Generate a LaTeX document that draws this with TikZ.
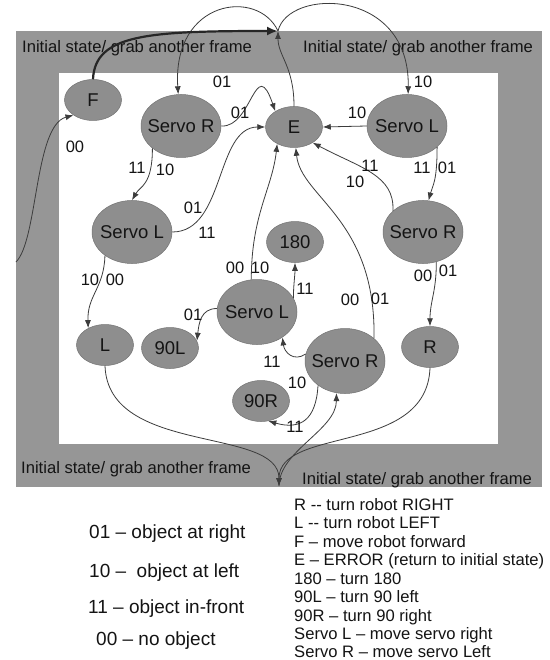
\documentclass[tikz,border=0pt]{standalone}
\usepackage{fontspec}
\setmainfont{Liberation Sans}
\usetikzlibrary{shapes.geometric,arrows.meta}
\definecolor{framegray}{RGB}{150,150,150}
\definecolor{nodegray}{RGB}{142,142,142}
\definecolor{linegray}{RGB}{60,60,60}
\definecolor{txt}{RGB}{20,20,20}
\newcommand\zc[1]{\makebox[0pt]{#1}}
\begin{document}
\begin{tikzpicture}[x=1pt,y=-1pt,
 st/.style={ellipse,fill=nodegray,draw=nodegray!80!black,line width=0.5pt,inner sep=0pt,font=\fontsize{18.5}{18.5}\selectfont,text=txt},
 big/.style={st,minimum width=80pt,minimum height=63pt},
 sml/.style={st,minimum width=57pt,minimum height=41pt},
 lab/.style={font=\fontsize{16.5}{16.5}\selectfont,text=txt,inner sep=0pt},
 fr/.style={font=\fontsize{16.6}{16.6}\selectfont,text=txt,inner sep=0pt,anchor=base west},
 leg/.style={font=\fontsize{16.6}{16.6}\selectfont,text=txt,inner sep=0pt,anchor=base west},
 legb/.style={font=\fontsize{19}{19}\selectfont,text=txt,inner sep=0pt,anchor=base west},
 arr/.style={draw=linegray,line width=0.8pt,-{Latex[length=8pt,width=6pt]}},
 thk/.style={draw=black!85,line width=2.2pt,-{Latex[length=11pt,width=9pt]}}
]
\useasboundingbox (0,0) rectangle (549,660);
\fill[white] (0,0) rectangle (549,660);
\fill[framegray] (16,31) rectangle (542,487);
\fill[white] (59,73) rectangle (498,444);

% frame labels
\node[fr] (t1) at (22,53) {Initial state/ grab another frame};
\node[fr] (t2) at (303,53) {Initial state/ grab another frame};
\node[fr] (t3) at (21,473) {Initial state/ grab another frame};
\node[fr] (t4) at (302,484) {Initial state/ grab another frame};

% states
\node[sml] (F) at (93,100) {\zc{F}};
\node[big] (SRa) at (181,126) {\zc{Servo R}};
\node[sml] (E) at (294,127) {\zc{E}};
\node[big] (SLa) at (407,126) {\zc{Servo L}};
\node[big] (SLb) at (132,232) {\zc{Servo L}};
\node[big] (SRb) at (423,232) {\zc{Servo R}};
\node[sml] (N180) at (295,242) {\zc{180}};
\node[big,minimum height=65pt] (SLc) at (257,312) {\zc{Servo L}};
\node[big,minimum height=65pt] (SRc) at (345,361) {\zc{Servo R}};
\node[sml] (L) at (105,345) {\zc{L}};
\node[sml] (N90L) at (170,348) {\zc{90L}};
\node[sml] (R) at (430,347) {\zc{R}};
\node[sml] (N90R) at (261,401) {\zc{90R}};

\coordinate (jt) at (278,31);
\coordinate (jb) at (279,486);
\coordinate (lin) at (16,262);

% connectors
\draw[arr] (jt) .. controls +(-20,-43) and +(-6,-95) .. (SRa.95);
\draw[arr] (jt) .. controls +(10,-43) and +(2,-107) .. (SLa.88);
\draw[thk] (F.north) .. controls +(2,-45) and +(-130,0) .. (jt);
\draw[arr] (lin) .. controls +(22,-22) and +(-39,10) .. (F.218);
\draw[arr] (E.north) .. controls +(0,-40) and +(0,25) .. (jt);
\draw[arr] (SRa.east) .. controls +(31,2) and +(-20,-58) .. (E.140);
\draw[arr] (SLa.west) -- (E.east);
\draw[arr] (SRa.218) .. controls +(0,37) and +(8,-14) .. (SLb.north);
\draw[arr] (SLb.east) .. controls +(53,0) and +(-50,0) .. (E.west);
\draw[arr] (SLa.325) .. controls +(0,35) and +(4,-15) .. (SRb.80);
\draw[arr] (SRb.145) .. controls +(2,-36) and +(47,25) .. (E.320);
\draw[arr] (SRb.294) .. controls +(0,30) and +(0,-25) .. (R.north);
\draw[arr] (SLb.221) .. controls +(-1,33) and +(-1,-33) .. (L.135);
\draw[arr] (SLc.100) .. controls +(0,-65) and +(-5,45) .. (E.225);
\draw[arr] (SLc.21) .. controls +(0,-12) and +(0,12) .. (N180.south);
\draw[arr] (SLc.175) .. controls +(-16,0) and +(2,-18) .. (N90L.15);
\draw[arr] (SRc.170) .. controls +(-12,8) and +(2,15) .. (SLc.315);
\draw[arr] (SRc.38) .. controls +(2,-120) and +(5,50) .. (E.275);
\draw[arr] (SRc.222) .. controls +(-2,35) and +(32,9) .. (N90R.290);
\draw[arr] (jb) .. controls +(0,-35) and +(0,37) .. (SRc.255);
\draw[arr] (L.south) .. controls +(3,90) and +(0,-60) .. (jb);
\draw[arr] (R.south) .. controls +(-3,88) and +(0,-60) .. (jb);

% connector labels
\node[lab] (a1) at (222,82) {01};
\node[lab] (a2) at (423,82) {10};
\node[lab] (a3) at (240,113) {01};
\node[lab] (a4) at (357,113) {10};
\node[lab] (a5) at (75,147) {00};
\node[lab] (a6) at (137,168) {11};
\node[lab] (a7) at (165,170) {10};
\node[lab] (a8) at (422,168) {11};
\node[lab] (a9) at (447,168) {01};
\node[lab] (a10) at (370,166) {11};
\node[lab] (a11) at (355,182) {10};
\node[lab] (a12) at (193,208) {01};
\node[lab] (a13) at (207,233) {11};
\node[lab] (a14) at (90,280) {10};
\node[lab] (a15) at (115,280) {00};
\node[lab] (a16) at (423,276) {00};
\node[lab] (a17) at (448,271) {01};
\node[lab] (a18) at (235,268) {00};
\node[lab] (a19) at (260,268) {10};
\node[lab] (a20) at (305,289) {11};
\node[lab] (a21) at (350,300) {00};
\node[lab] (a22) at (380,299) {01};
\node[lab] (a23) at (193,315) {01};
\node[lab] (a24) at (272,362) {11};
\node[lab] (a25) at (297,383) {10};
\node[lab] (a26) at (295,427) {11};

% legend
\node[legb] (k1) at (89,538) {01 – object at right};
\node[legb] (k2) at (89,577) {10 – \ object at left};
\node[legb] (k3) at (88,613) {11 – object in-front};
\node[legb] (k4) at (96,645) {00 – no object};
\node[leg] (r1) at (294,510) {R -{}- turn robot RIGHT};
\node[leg] (r2) at (294,528.5) {L -{}- turn robot LEFT};
\node[leg] (r3) at (294,547) {F – move robot forward};
\node[leg] (r4) at (294,565.5) {E – ERROR (return to initial state)};
\node[leg] (r5) at (294,584) {180 – turn 180};
\node[leg] (r6) at (294,602.5) {90L – turn 90 left};
\node[leg] (r7) at (294,621) {90R – turn 90 right};
\node[leg] (r8) at (294,639.5) {Servo L – move servo right};
\node[leg] (r9) at (294,657) {Servo R – move servo Left};
\end{tikzpicture}
\end{document}
